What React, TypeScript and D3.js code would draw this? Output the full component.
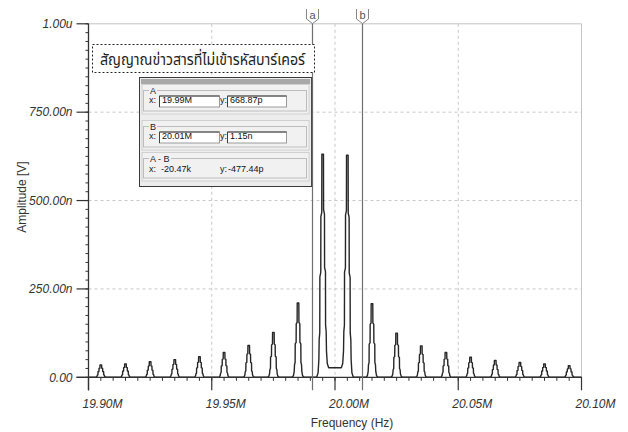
import React from 'react';
import * as d3 from 'd3';

// ---- data ----
const peakFreqsMHz = [
  19.905, 19.915, 19.925, 19.935, 19.945, 19.955, 19.965, 19.975, 19.985, 19.995,
  20.005, 20.015, 20.025, 20.035, 20.045, 20.055, 20.065, 20.075, 20.085, 20.095,
];
const peakAmpsN = [35, 38, 44, 50, 58, 70, 90, 127, 210, 631, 628, 208, 125, 89, 70, 57, 48, 42, 38, 33];
// level of the curve between neighbouring peaks (nV)
const troughLevelsN = [0, 0, 0, 0, 0, 0, 0, 0, 0, 27, 0, 0, 0, 0, 0, 0, 0, 0, 0];

const yTickValues = [0, 250e-9, 500e-9, 750e-9, 1e-6];
const yTickLabels = ['0.00', '250.00n', '500.00n', '750.00n', '1.00u'];
const xTickValuesMHz = [19.9, 19.95, 20.0, 20.05, 20.1];
const xTickLabels = ['19.90M', '19.95M', '20.00M', '20.05M', '20.10M'];

const cursorFreqsMHz = [19.9905, 20.01097];
const cursorNames = ['a', 'b'];
const cursorGroups = ['A', 'B', 'A - B'];
const cursorXTexts = ['19.99M', '20.01M', '-20.47k'];
const cursorYTexts = ['668.87p', '1.15n', '-477.44p'];

const titleText = 'สัญญาณข่าวสารที่ไม่เข้ารหัสบาร์เคอร์';
const xTitle = 'Frequency (Hz)';
const yTitle = 'Amplitude [V]';

// peak outline profile (offset in px from centre, fraction of height) – drawing style
const peakProfile: [number, number][] = [
  [0.8, 1], [0.9, 0.74], [1.8, 0.72], [1.9, 0.47], [2.8, 0.45], [2.9, 0.2],
  [3.5, 0.17], [3.8, 0.08], [4.6, 0.02], [6, 0],
];

const W = 628, H = 432;
const L = 88.5, R = 581.5, T = 23.8, B = 377.3;

export default function App() {
  const x = d3.scaleLinear().domain([19.9e6, 20.1e6]).range([L, R]);
  const y = d3.scaleLinear().domain([0, 1e-6]).range([B, T]);
  const hzPerPx = (20.1e6 - 19.9e6) / (R - L);

  // build the spectrum outline
  const pts: [number, number][] = [[19.9e6, 0]];
  peakFreqsMHz.forEach((fm, i) => {
    const f = fm * 1e6;
    const A = peakAmpsN[i] * 1e-9;
    const gl = i > 0 ? troughLevelsN[i - 1] * 1e-9 : 0;
    const gr = i < troughLevelsN.length ? troughLevelsN[i] * 1e-9 : 0;
    for (let k = peakProfile.length - 1; k >= 0; k--) {
      const [o, fr] = peakProfile[k];
      pts.push([f - o * hzPerPx, gl + (A - gl) * fr]);
    }
    for (let k = 0; k < peakProfile.length; k++) {
      const [o, fr] = peakProfile[k];
      pts.push([f + o * hzPerPx, gr + (A - gr) * fr]);
    }
  });
  pts.push([20.1e6, 0]);
  const line = d3.line<[number, number]>().x(d => x(d[0])).y(d => y(d[1]));

  const yMinor = d3.range(0, 1e-6 + 1e-12, 25e-9);
  const xMinor = d3.range(19.9e6, 20.1e6 + 1, 5e3);

  const tickFont = "'Liberation Sans', Arial, sans-serif";
  const thaiFont = "'Noto Sans Thai', 'Noto Sans Thai UI', Tahoma, 'Noto Sans', sans-serif";

  // cursor panel geometry (chrome)
  const px0 = 139.5, px1 = x(cursorFreqsMHz[0] * 1e6), py0 = 77.5, py1 = 186.5;
  const groupTops = [90.5, 126.5, 158.5];
  const groupBottoms = [111, 147, 178];

  return (
    <svg width={W} height={H} style={{ position: 'absolute', left: 0, top: 0, background: '#fff' }}
      fontFamily={tickFont}>
      <rect x={0} y={0} width={W} height={H} fill="#fff" />
      {/* grid */}
      {yTickValues.slice(1, 4).map((v, i) => (
        <line key={'gy' + i} x1={L} x2={R} y1={y(v)} y2={y(v)} stroke="#c8c8c8" strokeDasharray="3,3" />
      ))}
      {xTickValuesMHz.slice(1, 4).map((v, i) => (
        <line key={'gx' + i} x1={x(v * 1e6)} x2={x(v * 1e6)} y1={T} y2={B} stroke="#c8c8c8" strokeDasharray="3,3" />
      ))}
      <line x1={L} x2={R} y1={T} y2={T} stroke="#c4c4c4" />
      <line x1={R} x2={R} y1={T} y2={B} stroke="#c4c4c4" />

      {/* spectrum */}
      <path d={line(pts) || ''} fill="none" stroke="#262626" strokeWidth={1.4} strokeLinejoin="round" />

      {/* axes */}
      <line x1={L} x2={L} y1={T} y2={B + 13} stroke="#333" strokeWidth={1.3} />
      <line x1={L - 12} x2={R} y1={B} y2={B} stroke="#333" strokeWidth={1.3} />
      {yMinor.map((v, i) => (
        <line key={'ym' + i} x1={L - 3} x2={L} y1={y(v)} y2={y(v)} stroke="#333" />
      ))}
      {yTickValues.map((v, i) => (
        <g key={'yt' + i}>
          <line x1={L - 12} x2={L} y1={y(v)} y2={y(v)} stroke="#333" strokeWidth={1.2} />
          <text x={L - 16} y={y(v) + 4.3} textAnchor="end" fontSize={12} fontStyle="italic" fill="#333">{yTickLabels[i]}</text>
        </g>
      ))}
      {xMinor.map((v, i) => (
        <line key={'xm' + i} x1={x(v)} x2={x(v)} y1={B} y2={B + 3.5} stroke="#333" />
      ))}
      {xTickValuesMHz.map((v, i) => (
        <g key={'xt' + i}>
          <line x1={x(v * 1e6)} x2={x(v * 1e6)} y1={B} y2={B + 13} stroke="#333" strokeWidth={1.2} />
          <text x={x(v * 1e6) + 14} y={408} textAnchor="middle" fontSize={12} fontStyle="italic" fill="#333">{xTickLabels[i]}</text>
        </g>
      ))}
      <text x={352} y={427} textAnchor="middle" fontSize={12} fill="#333">{xTitle}</text>
      <text transform={`translate(26,${197}) rotate(-90)`} textAnchor="middle" fontSize={12} fill="#333">{yTitle}</text>

      {/* cursors */}
      {cursorFreqsMHz.map((fm, i) => {
        const cx = Math.round(x(fm * 1e6)) + 0.5;
        return (
          <g key={'c' + i}>
            <line x1={cx} x2={cx} y1={23} y2={B + 13} stroke="#707070" strokeWidth={1.2} />
            <path d={`M${cx - 6},9 L${cx - 6},19 L${cx},23.5 L${cx + 6},19 L${cx + 6},9`} fill="#fff" stroke="#888" />
            <text x={cx} y={19} textAnchor="middle" fontSize={11} fill="#555">{cursorNames[i]}</text>
          </g>
        );
      })}

      {/* title box */}
      <rect x={92.5} y={44.5} width={222} height={28} fill="#fff" stroke="#222" strokeDasharray="2,2" />
      <text x={100} y={65} fontSize={16} fontFamily={thaiFont} fill="#222" textLength={205} lengthAdjust="spacingAndGlyphs">{titleText}</text>

      {/* cursor readout panel */}
      <rect x={px0} y={py0} width={px1 - px0} height={py1 - py0} fill="#ededed" stroke="#3a3a3a" />
      <rect x={px0 + 1.5} y={py0 + 1.5} width={px1 - px0 - 3} height={5} fill="#a8a8a8" />
      {cursorGroups.map((g, i) => {
        const gt = groupTops[i], gb = groupBottoms[i];
        const rowY = i === 2 ? gt + 13 : gt + 12.5;
        return (
          <g key={'grp' + i}>
            <rect x={px0 + 2.5} y={gt - 6} width={px1 - px0 - 5} height={gb - gt + 9} fill="#f1f1f1" stroke="#d0d0d0" />
            <rect x={143.5} y={gt} width={163} height={gb - gt} fill="none" stroke="#bdbdbd" />
            <rect x={149} y={gt - 5} width={i === 2 ? 22 : 8} height={9} fill="#f1f1f1" />
            <text x={150} y={gt + 3} fontSize={9} fill="#222">{g}</text>
            <text x={149} y={rowY} fontSize={9} fill="#222">x:</text>
            <text x={220} y={rowY} fontSize={9} fill="#222">y:</text>
            {i < 2 && (
              <g>
                <rect x={159.5} y={gt + 5.5} width={60} height={11} fill="#fff" stroke="#9a9a9a" />
                <path d={`M159.5,${gt + 16.5} L159.5,${gt + 5.5} L219.5,${gt + 5.5}`} fill="none" stroke="#404040" />
                <rect x={227.5} y={gt + 5.5} width={59} height={11} fill="#fff" stroke="#9a9a9a" />
                <path d={`M227.5,${gt + 16.5} L227.5,${gt + 5.5} L286.5,${gt + 5.5}`} fill="none" stroke="#404040" />
              </g>
            )}
            <text x={i < 2 ? 162 : 161} y={rowY} fontSize={9} fill="#111">{cursorXTexts[i]}</text>
            <text x={i < 2 ? 230 : 228} y={rowY} fontSize={9} fill="#111">{cursorYTexts[i]}</text>
          </g>
        );
      })}
    </svg>
  );
}
